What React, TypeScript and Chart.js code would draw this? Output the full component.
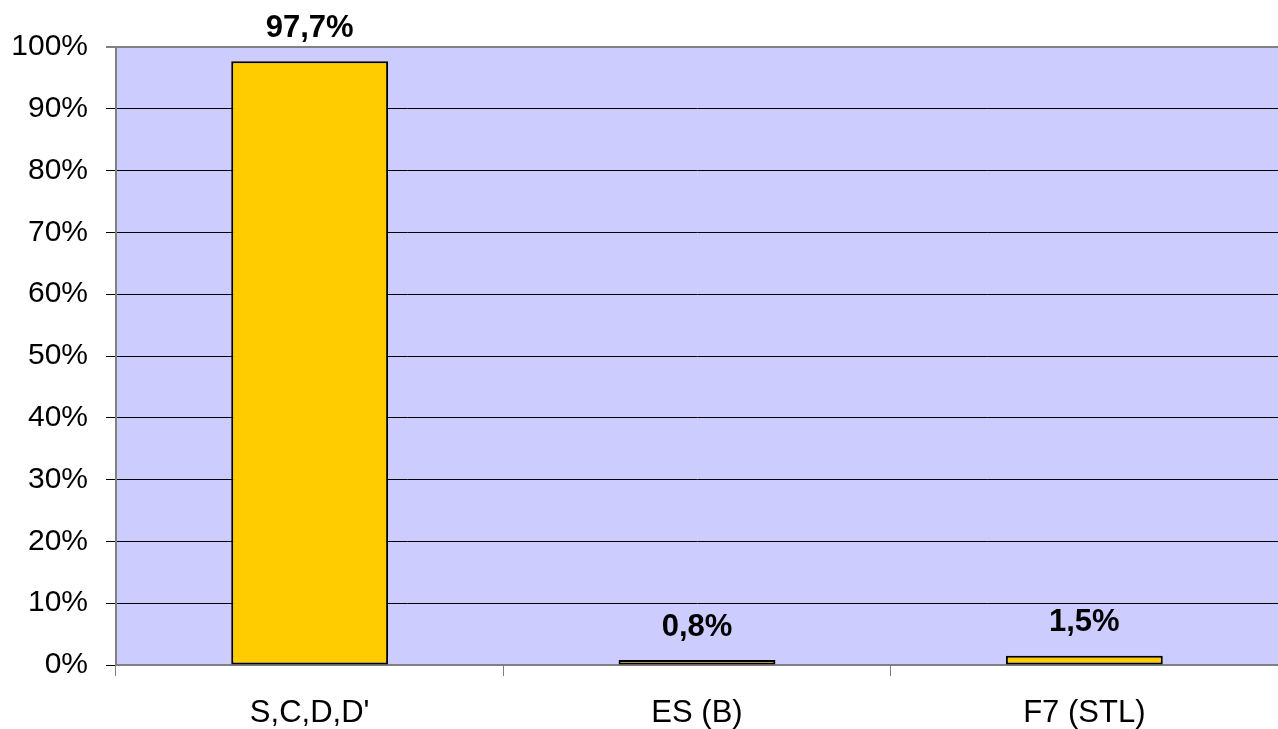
import React, { useEffect, useRef } from "react";
import { Chart, registerables } from "chart.js";

Chart.register(...registerables);

const categories: string[] = ["S,C,D,D'", "ES (B)", "F7 (STL)"];
const shares: number[] = [97.7, 0.8, 1.5];
const yTicks: number[] = [0, 10, 20, 30, 40, 50, 60, 70, 80, 90, 100];

const FONT = "'Liberation Sans', Arial, sans-serif";

const bgPlugin = {
  id: "plotBg",
  beforeDraw(chart: any) {
    const { ctx, chartArea } = chart;
    ctx.save();
    ctx.fillStyle = "#CCCCFF";
    ctx.fillRect(chartArea.left, chartArea.top, chartArea.right - chartArea.left, chartArea.bottom - chartArea.top);
    ctx.restore();
  },
};

const labelPlugin = {
  id: "valueLabels",
  afterDatasetsDraw(chart: any) {
    const { ctx } = chart;
    const meta = chart.getDatasetMeta(0);
    ctx.save();
    ctx.font = `bold 31px ${FONT}`;
    ctx.fillStyle = "#000";
    ctx.textAlign = "center";
    ctx.textBaseline = "middle";
    meta.data.forEach((el: any, i: number) => {
      const v = chart.data.datasets[0].data[i] as number;
      const txt = v.toFixed(1).replace(".", ",") + "%";
      ctx.fillText(txt, el.x, el.y - 33);
    });
    ctx.restore();
  },
};

export default function App() {
  const ref = useRef<HTMLCanvasElement | null>(null);
  useEffect(() => {
    document.body.style.margin = "0";
    const canvas = ref.current;
    if (!canvas) return;
    const chart = new Chart(canvas, {
      type: "bar",
      data: {
        labels: categories,
        datasets: [
          {
            data: shares,
            backgroundColor: "#FFCC00",
            borderColor: "#000000",
            borderWidth: 2,
            borderSkipped: false,
            barPercentage: 0.405,
            categoryPercentage: 1,
          },
        ],
      },
      options: {
        responsive: false,
        animation: false,
        layout: { padding: { top: 47, right: 0, left: 0, bottom: 0 } },
        plugins: { legend: { display: false }, tooltip: { enabled: false } },
        scales: {
          x: {
            afterFit: (s: any) => {
              s.height = 64;
            },
            border: { display: true, color: "#808080", width: 2 },
            grid: {
              drawOnChartArea: false,
              drawTicks: true,
              tickLength: 11,
              offset: true,
              color: "#808080",
            },
            ticks: {
              color: "#000",
              padding: 19,
              font: { family: FONT, size: 31 },
            },
          },
          y: {
            min: 0,
            max: 100,
            afterFit: (s: any) => {
              s.width = 116;
            },
            afterBuildTicks: (s: any) => {
              s.ticks = yTicks.map((v) => ({ value: v }));
            },
            border: { display: true, color: "#808080", width: 2 },
            grid: {
              color: (c: any) => (c.tick && c.tick.value === 100 ? "#808080" : "#000000"),
              lineWidth: (c: any) => (c.tick && c.tick.value === 100 ? 2 : 1),
              tickLength: 10,
            },
            ticks: {
              color: "#000",
              padding: 18,
              font: { family: FONT, size: 30 },
              callback: (v: any) => `${v}%`,
            },
          },
        },
      },
      plugins: [bgPlugin, labelPlugin],
    });
    return () => chart.destroy();
  }, []);
  return (
    <div style={{ width: 1278, height: 729 }}>
      <canvas ref={ref} width={1278} height={729} style={{ display: "block" }} />
    </div>
  );
}
